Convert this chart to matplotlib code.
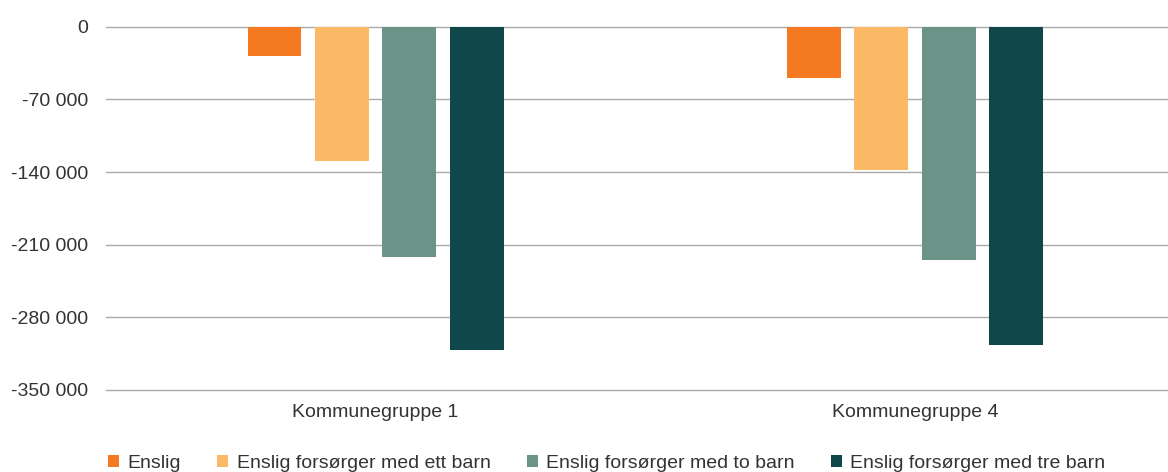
import matplotlib
matplotlib.use("Agg")
import matplotlib.pyplot as plt
from matplotlib.ticker import FuncFormatter
import numpy as np

categories = ["Kommunegruppe 1", "Kommunegruppe 4"]
series_names = ["Enslig", "Enslig forsørger med ett barn",
                "Enslig forsørger med to barn", "Enslig forsørger med tre barn"]
enslig = [-28000, -49400]
ett_barn = [-129100, -138100]
to_barn = [-221900, -224800]
tre_barn = [-311500, -306700]
yticks = [0, -70000, -140000, -210000, -280000, -350000]
colors = ["#F47920", "#FCB965", "#6C9388", "#10474A"]

plt.rcParams['font.family'] = ['Liberation Sans', 'DejaVu Sans']
text_color = "#333333"

fig = plt.figure(figsize=(11.68, 4.72), dpi=100)
ax = fig.add_axes([106 / 1168, 1 - 390 / 472, 1 - 106 / 1168, (390 - 26.7) / 472])

x = np.arange(len(categories))
width = 0.1
step = 0.125
all_series = [enslig, ett_barn, to_barn, tre_barn]
for i, (vals, name, c) in enumerate(zip(all_series, series_names, colors)):
    ax.bar(x + (i - 1.5) * step, vals, width=width, color=c, label=name, zorder=3)

ax.set_xlim(-0.5, 1 + (1168 - 915) / 539)
ax.set_ylim(-350000, 0)
ax.set_yticks(yticks)
ax.yaxis.set_major_formatter(FuncFormatter(lambda v, p: f"{int(v):,}".replace(",", " ")))
ax.set_xticks(x)
ax.set_xticklabels(categories)

ax.tick_params(axis='both', length=0, labelsize=14, colors=text_color)
ax.tick_params(axis='y', pad=13)
ax.tick_params(axis='x', pad=10)

for s in ax.spines.values():
    s.set_visible(False)

ax.grid(axis='y', color='#ababab', linewidth=1.0, zorder=0)
ax.set_axisbelow(True)
for line in ax.get_ygridlines():
    line.set_clip_on(False)

leg = fig.legend(loc='center', bbox_to_anchor=(606.8 / 1168, 1 - 463.3 / 472), ncol=4,
                 frameon=False, fontsize=14, handlelength=0.57, handleheight=0.57,
                 handletextpad=0.44, columnspacing=1.85, borderpad=0, borderaxespad=0)
for t in leg.get_texts():
    t.set_color(text_color)

fig.savefig("out.png", dpi=100)
